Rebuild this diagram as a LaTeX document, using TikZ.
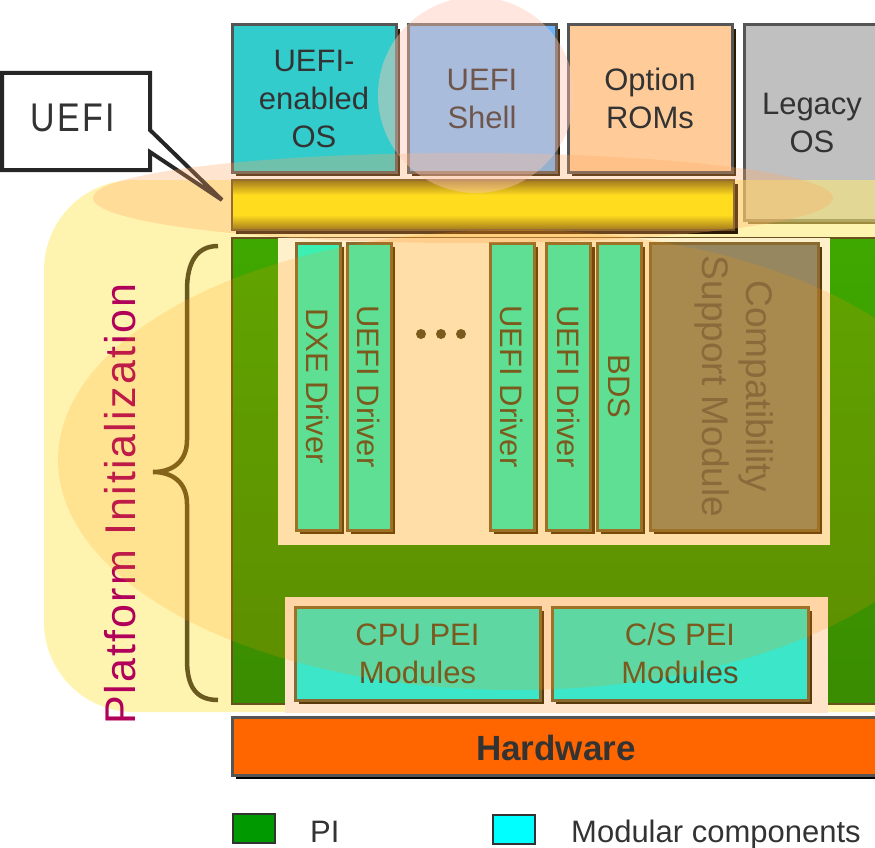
\documentclass[tikz,border=0pt]{standalone}
\usepackage{fontspec}
\setmainfont{Liberation Sans}
\newfontfamily\spacedfont[LetterSpace=5]{Liberation Sans}
\newfontfamily\calloutfont[FakeStretch=0.85,LetterSpace=6]{Liberation Sans}
\usetikzlibrary{shadows}

\definecolor{osteal}{HTML}{33CCCC}
\definecolor{shellblue}{HTML}{6AB4FC}
\definecolor{romorange}{HTML}{FFCC99}
\definecolor{legacygray}{HTML}{C0C0C0}
\definecolor{boxline}{HTML}{555555}
\definecolor{boxshade}{HTML}{2A1800}
\definecolor{bgyellow}{HTML}{FFEA70}
\definecolor{barolive}{HTML}{7A6400}
\definecolor{baryellow}{HTML}{FFF200}
\definecolor{pigreen}{HTML}{3FA800}
\definecolor{pigreendark}{HTML}{3A8C00}
\definecolor{pibrown}{HTML}{6B5020}
\definecolor{peachup}{HTML}{FFF0CC}
\definecolor{peachlow}{HTML}{FFE4CA}
\definecolor{drvmint}{HTML}{3CF0B4}
\definecolor{drvline}{HTML}{8B6A30}
\definecolor{drvshade}{HTML}{5A3A0A}
\definecolor{drvtextc}{HTML}{5E4E25}
\definecolor{csmbrown}{HTML}{968760}
\definecolor{csmtext}{HTML}{716047}
\definecolor{peiteal}{HTML}{3CE6C8}
\definecolor{hwred}{HTML}{FF6600}
\definecolor{bracec}{HTML}{6B5A20}
\definecolor{platc}{HTML}{B0005A}
\definecolor{legtext}{HTML}{333333}
\definecolor{legendgreen}{HTML}{009900}
\definecolor{legendcyan}{RGB}{0,255,255}
\definecolor{glow}{RGB}{255,150,0}
\definecolor{glowpink}{RGB}{255,200,180}
\definecolor{glowflat}{RGB}{255,170,100}

\pgfdeclareverticalshading{barshade}{100bp}{color(0bp)=(barolive); color(25bp)=(barolive); color(40bp)=(baryellow); color(60bp)=(baryellow); color(75bp)=(barolive); color(100bp)=(barolive)}

\begin{document}
\begin{tikzpicture}[x=1pt, y=-1pt,
	every node/.style={inner sep=0pt},
	boxshadow/.style={drop shadow={shadow xshift=4pt, shadow yshift=-4pt, fill=#1, opacity=1}},
	osbox/.style={draw=boxline, line width=3pt, boxshadow=boxshade, align=center, text=legtext, minimum height=147pt, font=\fontsize{31}{38}\selectfont},
	drvbox/.style={draw=drvline, line width=3pt, boxshadow=drvshade, fill=drvmint, minimum width=44pt, minimum height=287pt},
	drvtext/.style={rotate=-90, text=drvtextc, font=\fontsize{31}{38}\selectfont},
	peibox/.style={draw=drvline, line width=3pt, boxshadow=drvshade, fill=peiteal, minimum height=93pt, align=center, text=drvtextc, font=\fontsize{31}{38}\selectfont},
	keybox/.style={draw=legtext, line width=2pt, minimum width=42pt, minimum height=29pt},
	keytext/.style={anchor=base west, text=legtext, font=\fontsize{31}{38}\selectfont}]

\useasboundingbox (0,0) rectangle (875,848);
\clip (0,0) rectangle (875,848);

% legacy OS sits under the yellow glow
\node[osbox, fill=legacygray, minimum width=136pt, minimum height=195pt] (legacy) at (812,122.5) {Legacy\\OS};
\fill[bgyellow, opacity=.55, rounded corners=90pt] (44,180) rectangle (960,712);

% callout
\draw[black!85, line width=4pt, fill=white] (2,73) -- (150,73) -- (150,130) -- (222,200) -- (150,152) -- (150,170) -- (2,170) -- cycle;
\node[font=\calloutfont\fontsize{40}{44}\selectfont, text=black!80] (uefi) at (73,118) {UEFI};

% top row
\node[osbox, fill=osteal, minimum width=164pt] (uefios) at (314,98.5) {UEFI-\\enabled\\OS};
\node[osbox, fill=shellblue, minimum width=148pt, text=black] (shell) at (482,98.5) {UEFI\\Shell};
\node[osbox, fill=romorange, minimum width=164pt] (optrom) at (650,98.5) {Option\\ROMs};
\node[draw=pibrown, line width=2pt, boxshadow=boxshade, minimum width=502pt, minimum height=50pt, shading=barshade] (uefibar) at (483,205) {};

% platform initialization block
\node[draw=pibrown, line width=2.5pt, top color=pigreen, bottom color=pigreendark, minimum width=658pt, minimum height=466pt] (pi) at (561,471) {};
\node[fill=peachup, minimum width=552pt, minimum height=307pt] (dxearea) at (554,391.5) {};
\node[fill=peachlow, minimum width=543pt, minimum height=116pt] (peiarea) at (556.5,655) {};

\node[drvbox] (dxe) at (318,386.5) {};
\node[drvtext] (dxetext) at (dxe) {DXE Driver};
\node[drvbox] (drva) at (369,386.5) {};
\node[drvtext] (drvatext) at (drva) {UEFI Driver};
\foreach \x in {421,441,461}
	\fill[drvtextc] (\x,334) circle (5pt);
\node[drvbox] (drvb) at (512,386.5) {};
\node[drvtext] (drvbtext) at (drvb) {UEFI Driver};
\node[drvbox] (drvc) at (568.5,386.5) {};
\node[drvtext] (drvctext) at (drvc) {UEFI Driver};
\node[drvbox] (bds) at (619,386.5) {};
\node[drvtext] (bdstext) at (bds) {BDS};
\node[drvbox, fill=csmbrown, minimum width=168pt] (csm) at (734,386.5) {};
\node[drvtext, text=csmtext, align=center, font=\fontsize{37}{44}\selectfont] (csmtext) at (csm) {Compatibility\\Support Module};

\node[peibox, minimum width=245pt] (cpupei) at (417.5,653.5) {CPU PEI\\Modules};
\node[peibox, minimum width=256pt] (cspei) at (680,653.5) {C/S PEI\\Modules};

% hardware
\node[draw=boxline, line width=3pt, boxshadow=black, fill=hwred, minimum width=648pt, minimum height=58pt] (hw) at (556,746) {};
\node[text=legtext, font=\bfseries\fontsize{35}{40}\selectfont] (hwtext) at (556,748) {Hardware};

% brace and label
\draw[bracec, line width=4.5pt] (218,246) .. controls (197,246) and (187,262) .. (187,290) -- (187,440)
	.. controls (187,462) and (172,472) .. (153,472) .. controls (172,472) and (187,482) .. (187,504)
	-- (187,660) .. controls (187,688) and (197,700) .. (218,700);
\node[rotate=90, text=platc, font=\spacedfont\fontsize{43}{48}\selectfont] (platform) at (120.5,504) {Platform Initialization};

% glows
\fill[glowflat, opacity=.3] (463,198) ellipse [x radius=370pt, y radius=45pt];
\fill[glowpink, opacity=.43] (476,95) circle [radius=98pt];
\fill[glow, opacity=.18] (515,460) ellipse [x radius=457pt, y radius=230pt];

% legend
\node[keybox, fill=legendgreen] (pikey) at (254,828) {};
\node[keytext] (pilabel) at (310,842) {PI};
\node[keybox, fill=legendcyan] (modkey) at (514,829) {};
\node[keytext] (modlabel) at (571,842) {Modular components};

\end{tikzpicture}
\end{document}
